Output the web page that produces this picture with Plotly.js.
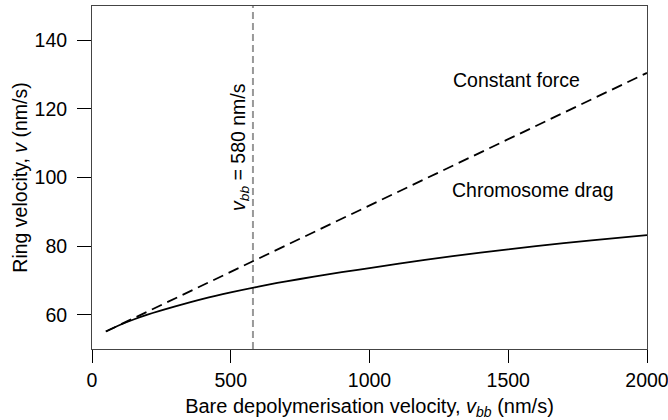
<!DOCTYPE html>
<html>
<head>
<meta charset="utf-8">
<script src="https://cdn.plot.ly/plotly-3.0.1.min.js"></script>
<style>html,body{margin:0;padding:0;background:#fff;}#chart{width:668px;height:420px;}</style>
</head>
<body>
<div id="chart"></div>
<script>
// Chromosome drag curve (solid)
const dragX = [50, 100, 150, 200, 300, 400, 500, 600, 700, 800, 900, 1000, 1200, 1400, 1600, 1800, 2000];
const dragY = [55.1, 57.0, 58.6, 60.0, 62.4, 64.6, 66.5, 68.2, 69.7, 71.1, 72.4, 73.6, 76.0, 78.1, 80.0, 81.65, 83.2];
// Constant force line (dashed)
const forceX = [50, 580, 2000];
const forceY = [55.1, 75.6, 130.5];
// Reference vertical line
const vbbMarker = [580];
// Axis ticks
const xTicks = [0, 500, 1000, 1500, 2000];
const yTicks = [60, 80, 100, 120, 140];

const FONT = 'Liberation Sans, Arial, sans-serif';
const FS = 19.5;

const traces = [
  {x: forceX, y: forceY, mode: 'lines', type: 'scatter',
   line: {color: '#000', width: 1.8, dash: '11px,6px'}, hoverinfo: 'skip'},
  {x: dragX, y: dragY, mode: 'lines', type: 'scatter',
   line: {color: '#000', width: 1.8, shape: 'spline', smoothing: 0.8}, hoverinfo: 'skip'}
];

const layout = {
  width: 668, height: 420,
  margin: {l: 92, r: 21, t: 6, b: 71},
  paper_bgcolor: '#fff', plot_bgcolor: '#fff',
  showlegend: false,
  font: {family: FONT, size: FS, color: '#000'},
  xaxis: {
    range: [0, 2000], tickvals: xTicks, ticktext: xTicks.map(String),
    showgrid: false, zeroline: false,
    showline: true, mirror: true, linecolor: '#444', linewidth: 1,
    ticks: 'outside', ticklen: 13, tickwidth: 1, tickcolor: '#000',
    ticklabelstandoff: 1, ticklabeloverflow: 'allow',
    tickfont: {family: FONT, size: FS},
    title: {text: 'Bare depolymerisation velocity, <i>v</i><sub><i>bb</i></sub> (nm/s)',
            font: {family: FONT, size: 20}, standoff: 8}
  },
  yaxis: {
    range: [50, 150], tickvals: yTicks, ticktext: yTicks.map(String),
    showgrid: false, zeroline: false,
    showline: true, mirror: true, linecolor: '#444', linewidth: 1,
    ticks: 'outside', ticklen: 14, tickwidth: 1, tickcolor: '#000',
    ticklabelstandoff: 6, ticklabeloverflow: 'allow',
    tickfont: {family: FONT, size: FS},
    title: {text: 'Ring velocity, <i>v</i> (nm/s)', font: {family: FONT, size: FS}, standoff: 1}
  },
  shapes: [
    {type: 'line', xref: 'x', yref: 'paper', x0: vbbMarker[0], x1: vbbMarker[0], y0: 0, y1: 1,
     line: {color: '#999', width: 2, dash: '7px,4px'}, layer: 'below'}
  ],
  annotations: [
    {x: 1531, y: 128.5, xref: 'x', yref: 'y', text: 'Constant force', showarrow: false,
     font: {family: FONT, size: FS, color: '#000'}},
    {x: 1589, y: 96.3, xref: 'x', yref: 'y', text: 'Chromosome drag', showarrow: false,
     font: {family: FONT, size: FS, color: '#000'}},
    {x: 533, y: 108.9, xref: 'x', yref: 'y', text: '<i>v</i><sub><i>bb</i></sub> = ' + vbbMarker[0] + ' nm/s',
     showarrow: false, textangle: -90, font: {family: FONT, size: FS, color: '#000'}}
  ]
};

Plotly.newPlot('chart', traces, layout, {staticPlot: true, displayModeBar: false});
</script>
</body>
</html>
